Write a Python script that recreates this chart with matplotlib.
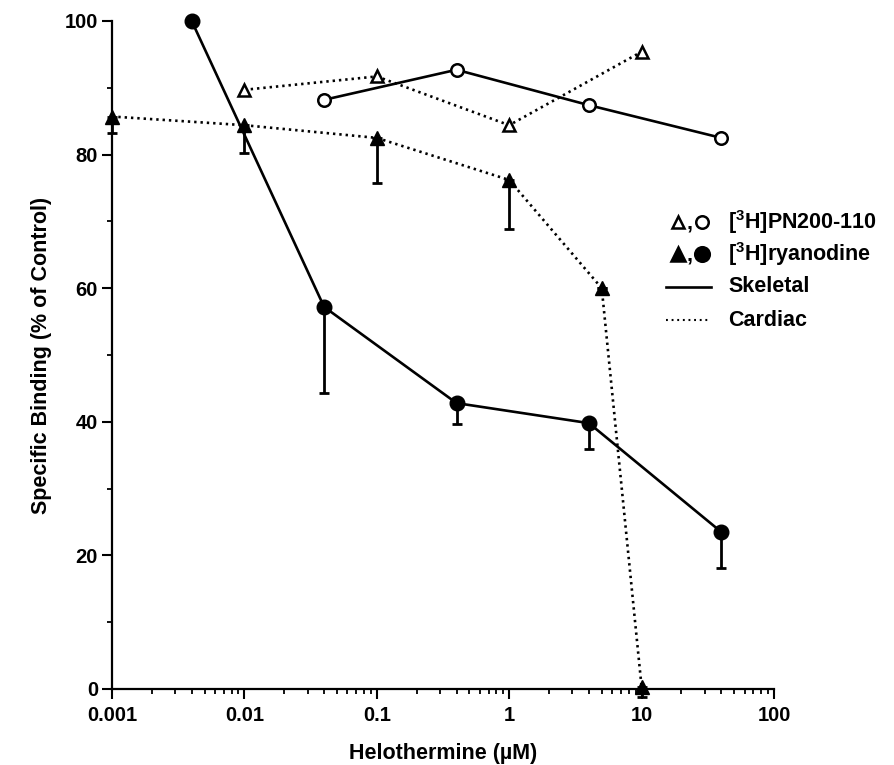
import matplotlib
matplotlib.use('Agg')
import matplotlib.pyplot as plt
from matplotlib.lines import Line2D
from matplotlib.ticker import FixedLocator, NullFormatter
import numpy as np

plt.rcParams['font.family'] = ['Liberation Sans', 'DejaVu Sans']
plt.rcParams['font.weight'] = 'bold'
plt.rcParams['mathtext.default'] = 'regular'

# skeletal, [3H]ryanodine (filled circles, solid)
skel_ry_x = [0.004, 0.04, 0.4, 4, 40]
skel_ry_y = [100, 57.2, 42.8, 39.8, 23.5]
skel_ry_err = [0, 12.9, 3.2, 3.8, 5.4]

# skeletal, [3H]PN200-110 (open circles, solid)
skel_pn_x = [0.04, 0.4, 4, 40]
skel_pn_y = [88.2, 92.7, 87.4, 82.5]

# cardiac, [3H]PN200-110 (open triangles, dotted)
card_pn_x = [0.01, 0.1, 1, 10]
card_pn_y = [89.7, 91.7, 84.4, 95.4]

# cardiac, [3H]ryanodine (filled triangles, dotted)
card_ry_x = [0.001, 0.01, 0.1, 1, 5, 10]
card_ry_y = [85.7, 84.4, 82.5, 76.2, 60.0, 0.3]
card_ry_err = [2.4, 4.2, 6.7, 7.4, 0, 1.5]

x_ticks = [0.001, 0.01, 0.1, 1, 10, 100]
x_ticklabels = ['0.001', '0.01', '0.1', '1', '10', '100']
y_ticks = [0, 20, 40, 60, 80, 100]

W, H = 895, 765
fig = plt.figure(figsize=(W / 100, H / 100), dpi=100)
ax = fig.add_axes([112 / W, 1 - 689 / H, (774 - 112) / W, (689 - 21) / H])

LW = 1.9
DOT = (0, (0.9, 1.5))
TICK_FS = 14.5
LABEL_FS = 15.5

# error bars (lower only)
def lower_err(x, y, err):
    ax.errorbar(x, y, yerr=[err, np.zeros(len(err))], fmt='none', ecolor='black',
                elinewidth=2.0, capsize=3.5, capthick=2.0, clip_on=False, zorder=2)

lower_err(skel_ry_x, skel_ry_y, skel_ry_err)
lower_err(card_ry_x, card_ry_y, card_ry_err)

ax.plot(skel_ry_x, skel_ry_y, '-', color='black', lw=LW, marker='o', ms=10.5,
        mfc='black', mec='black', clip_on=False, zorder=3)
ax.plot(skel_pn_x, skel_pn_y, '-', color='black', lw=LW, marker='o', ms=9,
        mfc='white', mec='black', mew=1.8, clip_on=False, zorder=3)
ax.plot(card_pn_x, card_pn_y, linestyle=DOT, color='black', lw=LW, marker='^', ms=9,
        mfc='white', mec='black', mew=1.8, clip_on=False, zorder=3)
ax.plot(card_ry_x, card_ry_y, linestyle=DOT, color='black', lw=LW, marker='^', ms=10,
        mfc='black', mec='black', clip_on=False, zorder=3)

ax.set_xscale('log')
ax.set_xlim(0.001, 100)
ax.set_ylim(0, 100)

ax.xaxis.set_major_locator(FixedLocator(x_ticks))
ax.set_xticklabels(x_ticklabels)
minor = [m * d for d in x_ticks[:-1] for m in range(2, 10)]
ax.xaxis.set_minor_locator(FixedLocator(minor))
ax.xaxis.set_minor_formatter(NullFormatter())
ax.set_yticks(y_ticks)
ax.yaxis.set_minor_locator(FixedLocator([10, 30, 50, 70, 90]))

for side in ['top', 'right']:
    ax.spines[side].set_visible(False)
for side in ['left', 'bottom']:
    ax.spines[side].set_linewidth(1.6)

ax.tick_params(which='major', direction='out', length=7, width=1.5, labelsize=TICK_FS)
ax.tick_params(which='minor', direction='out', length=3.5, width=1.3)
ax.tick_params(axis='x', which='major', pad=5)
ax.tick_params(axis='y', which='major', pad=3)
for t in ax.get_xticklabels() + ax.get_yticklabels():
    t.set_fontweight('bold')

ax.set_xlabel('Helothermine (\u00b5M)', fontsize=LABEL_FS, fontweight='bold', labelpad=13)
ax.set_ylabel('Specific Binding (% of Control)', fontsize=LABEL_FS, fontweight='bold', labelpad=9)

# legend, drawn by hand
def fx(px):
    return px / W

def fy(py):
    return 1 - py / H

rows = [222, 254, 287, 320]
text_x = 728
fs = LABEL_FS

def marker(px, py, m, filled, ms):
    fig.add_artist(Line2D([fx(px)], [fy(py)], marker=m, ms=ms, color='black',
                          mfc='black' if filled else 'white', mec='black', mew=1.8,
                          linestyle='none'))

marker(678, rows[0], '^', False, 9)
fig.text(fx(690), fy(rows[0] + 6), ',', fontsize=fs, fontweight='bold', ha='center', va='baseline')
marker(702, rows[0], 'o', False, 9)
fig.text(fx(text_x), fy(rows[0]), '[$^{3}$H]PN200-110', fontsize=fs, fontweight='bold',
         ha='left', va='center')

marker(678, rows[1], '^', True, 10)
fig.text(fx(690), fy(rows[1] + 6), ',', fontsize=fs, fontweight='bold', ha='center', va='baseline')
marker(702, rows[1], 'o', True, 10.5)
fig.text(fx(text_x), fy(rows[1]), '[$^{3}$H]ryanodine', fontsize=fs, fontweight='bold',
         ha='left', va='center')

fig.add_artist(Line2D([fx(666), fx(711)], [fy(rows[2]), fy(rows[2])], color='black', lw=LW))
fig.text(fx(text_x), fy(rows[2]), 'Skeletal', fontsize=fs, fontweight='bold', ha='left', va='center')

fig.add_artist(Line2D([fx(666), fx(711)], [fy(rows[3]), fy(rows[3])], color='black', lw=1.5,
                      linestyle=(0, (0.9, 1.8))))
fig.text(fx(text_x), fy(rows[3]), 'Cardiac', fontsize=fs, fontweight='bold', ha='left', va='center')

fig.savefig('out.png', dpi=100)
